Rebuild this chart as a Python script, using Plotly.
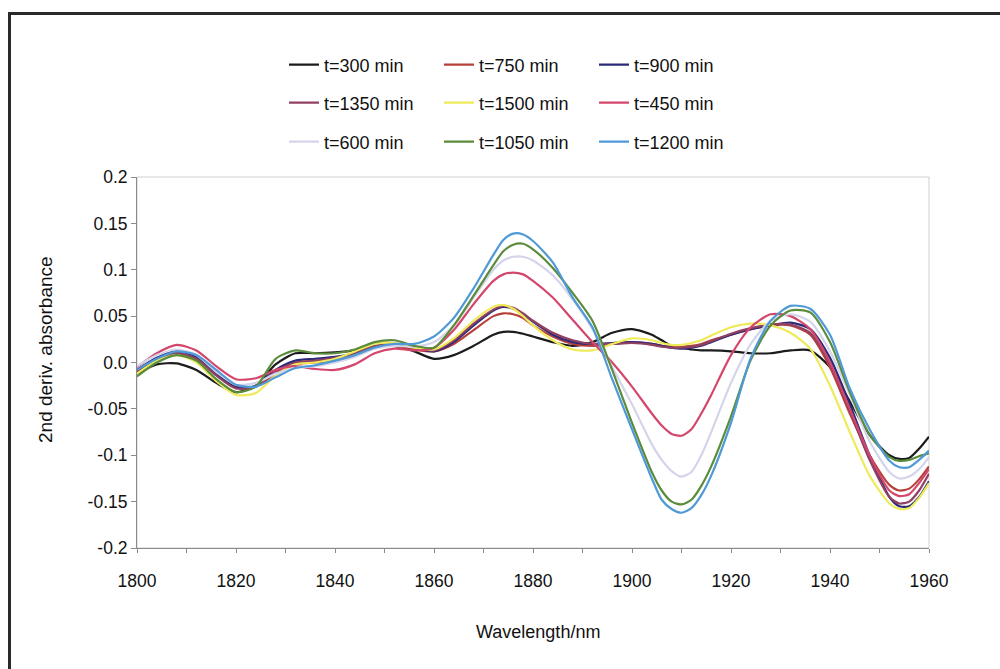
import plotly.graph_objects as go

wavelength = [1800, 1804, 1808, 1812, 1816, 1820, 1824, 1828, 1832, 1836, 1840, 1844, 1848, 1852,
              1856, 1860, 1864, 1868, 1872, 1874, 1876, 1878, 1880, 1884, 1888, 1892, 1896, 1900,
              1904, 1906, 1908, 1910, 1912, 1914, 1916, 1920, 1924, 1928, 1932, 1936, 1940, 1944,
              1948, 1952, 1954, 1956, 1958, 1960]

t300 = [-0.012, -0.002, -0.001, -0.008, -0.022, -0.032, -0.025, -0.002, 0.010, 0.010, 0.011, 0.013, 0.017, 0.018,
        0.012, 0.004, 0.008, 0.018, 0.030, 0.033, 0.033, 0.031, 0.028, 0.022, 0.018, 0.022, 0.032, 0.036,
        0.030, 0.024, 0.018, 0.016, 0.014, 0.013, 0.013, 0.012, 0.010, 0.010, 0.013, 0.013, -0.005, -0.042,
        -0.078, -0.100, -0.104, -0.103, -0.093, -0.080]
t750 = [-0.010, 0.004, 0.010, 0.004, -0.012, -0.026, -0.026, -0.012, -0.002, 0.000, 0.002, 0.008, 0.016, 0.018,
        0.014, 0.012, 0.020, 0.035, 0.050, 0.053, 0.052, 0.048, 0.040, 0.028, 0.020, 0.018, 0.020, 0.022,
        0.020, 0.018, 0.017, 0.017, 0.018, 0.020, 0.024, 0.030, 0.036, 0.040, 0.040, 0.030, -0.005, -0.055,
        -0.100, -0.132, -0.138, -0.136, -0.126, -0.112]
t900 = [-0.008, 0.005, 0.012, 0.006, -0.012, -0.027, -0.025, -0.008, 0.002, 0.004, 0.006, 0.010, 0.017, 0.020,
        0.016, 0.012, 0.022, 0.040, 0.056, 0.060, 0.058, 0.052, 0.044, 0.030, 0.022, 0.020, 0.021, 0.022,
        0.020, 0.018, 0.016, 0.015, 0.016, 0.018, 0.022, 0.030, 0.036, 0.040, 0.043, 0.036, 0.005, -0.045,
        -0.100, -0.145, -0.155, -0.155, -0.145, -0.128]
t1350 = [-0.010, 0.003, 0.010, 0.004, -0.014, -0.028, -0.026, -0.010, 0.000, 0.002, 0.005, 0.010, 0.018, 0.020,
         0.016, 0.013, 0.024, 0.042, 0.057, 0.061, 0.059, 0.053, 0.045, 0.032, 0.024, 0.020, 0.020, 0.021,
         0.019, 0.017, 0.016, 0.016, 0.017, 0.019, 0.023, 0.031, 0.037, 0.041, 0.041, 0.032, -0.002, -0.052,
         -0.105, -0.145, -0.152, -0.150, -0.138, -0.120]
t1500 = [-0.012, 0.002, 0.008, 0.000, -0.020, -0.035, -0.033, -0.014, -0.002, 0.000, 0.004, 0.012, 0.020, 0.021,
         0.016, 0.014, 0.026, 0.045, 0.060, 0.062, 0.058, 0.050, 0.040, 0.024, 0.014, 0.013, 0.020, 0.026,
         0.024, 0.021, 0.019, 0.019, 0.021, 0.024, 0.029, 0.038, 0.042, 0.040, 0.032, 0.015, -0.025, -0.075,
         -0.122, -0.152, -0.158, -0.157, -0.146, -0.130]
t450 = [-0.005, 0.010, 0.019, 0.013, -0.004, -0.018, -0.017, -0.008, -0.004, -0.007, -0.008, -0.002, 0.010, 0.015,
        0.013, 0.016, 0.035, 0.063, 0.088, 0.095, 0.097, 0.095, 0.088, 0.070, 0.046, 0.022, 0.000, -0.026,
        -0.055, -0.068, -0.077, -0.079, -0.072, -0.055, -0.035, 0.008, 0.038, 0.052, 0.050, 0.036, 0.000, -0.050,
        -0.100, -0.138, -0.144, -0.142, -0.130, -0.115]
t600 = [-0.004, 0.008, 0.014, 0.008, -0.010, -0.024, -0.022, -0.012, -0.006, -0.004, 0.000, 0.006, 0.015, 0.018,
        0.017, 0.022, 0.040, 0.070, 0.100, 0.110, 0.114, 0.114, 0.110, 0.094, 0.068, 0.036, -0.005, -0.045,
        -0.088, -0.105, -0.117, -0.123, -0.118, -0.100, -0.075, -0.022, 0.020, 0.045, 0.052, 0.044, 0.012, -0.035,
        -0.085, -0.118, -0.125, -0.123, -0.115, -0.102]
t1050 = [-0.015, 0.000, 0.008, 0.002, -0.018, -0.032, -0.026, 0.004, 0.013, 0.010, 0.010, 0.014, 0.022, 0.024,
         0.018, 0.016, 0.040, 0.072, 0.105, 0.120, 0.127, 0.128, 0.122, 0.102, 0.075, 0.045, -0.008, -0.065,
         -0.118, -0.138, -0.150, -0.153, -0.148, -0.133, -0.112, -0.058, 0.003, 0.040, 0.056, 0.054, 0.022, -0.032,
         -0.078, -0.102, -0.106, -0.105, -0.101, -0.098]
t1200 = [-0.008, 0.004, 0.012, 0.008, -0.008, -0.024, -0.026, -0.016, -0.006, -0.003, 0.002, 0.008, 0.016, 0.020,
         0.020, 0.028, 0.048, 0.080, 0.116, 0.132, 0.139, 0.138, 0.131, 0.108, 0.070, 0.038, -0.018, -0.072,
         -0.125, -0.148, -0.158, -0.162, -0.157, -0.143, -0.122, -0.065, 0.005, 0.045, 0.061, 0.058, 0.030, -0.028,
         -0.072, -0.106, -0.113, -0.113, -0.105, -0.095]

series_names = ["t=300 min", "t=750 min", "t=900 min", "t=1350 min", "t=1500 min", "t=450 min",
                "t=600 min", "t=1050 min", "t=1200 min"]
series_values = [t300, t750, t900, t1350, t1500, t450, t600, t1050, t1200]
series_colors = ["#1c1c1c", "#b8403a", "#2a2a78", "#904060", "#eeea5a", "#d4466c",
                 "#d4d4ea", "#5b8c3c", "#4f9ad6"]
legend_ids = ["legend", "legend", "legend", "legend2", "legend2", "legend2", "legend3", "legend3", "legend3"]

ytick_vals = [0.2, 0.15, 0.1, 0.05, 0.0, -0.05, -0.1, -0.15, -0.2]
ytick_text = ["0.2", "0.15", "0.1", "0.05", "0.0", "-0.05", "-0.1", "-0.15", "-0.2"]

FONT = "Liberation Sans, Arial, sans-serif"

fig = go.Figure()
for name, vals, col, lg in zip(series_names, series_values, series_colors, legend_ids):
    fig.add_trace(go.Scatter(x=wavelength, y=vals, mode="lines", name=name,
                             line=dict(color=col, width=2.2, shape="spline", smoothing=0.7),
                             legend=lg))

L, R, T, B = 137, 71, 177, 121
W, H = 1000, 669
pw, ph = W - L - R, H - T - B

def px_x(px):
    return (px - L) / pw

def px_y(py):
    return (H - B - py) / ph

leg_common = dict(orientation="h", xanchor="left", yanchor="middle", entrywidth=110,
                  entrywidthmode="pixels", font=dict(family=FONT, size=18, color="#111"),
                  bgcolor="rgba(0,0,0,0)", borderwidth=0, tracegroupgap=0)

fig.update_layout(
    width=W, height=H,
    margin=dict(l=L, r=R, t=T, b=B),
    paper_bgcolor="white", plot_bgcolor="white",
    font=dict(family=FONT, size=17, color="#111"),
    legend=dict(x=px_x(284), y=px_y(65), **leg_common),
    legend2=dict(x=px_x(284), y=px_y(103), **leg_common),
    legend3=dict(x=px_x(284), y=px_y(142), **leg_common),
    xaxis=dict(range=[1800, 1960], tickvals=list(range(1800, 1961, 20)), showgrid=False,
               zeroline=False, showline=True, linecolor="#8a8a8a", linewidth=1,
               ticks="outside", ticklen=4, tickcolor="#8a8a8a",
               minor=dict(dtick=10, ticks="outside", ticklen=4, tickcolor="#8a8a8a"),
               tickfont=dict(family=FONT, size=17.5, color="#111"), ticklabelstandoff=13),
    yaxis=dict(range=[-0.2, 0.2], tickvals=ytick_vals, ticktext=ytick_text, showgrid=False,
               zeroline=False, showline=True, linecolor="#8a8a8a", linewidth=1,
               ticks="outside", ticklen=5, tickcolor="#8a8a8a",
               tickfont=dict(family=FONT, size=17.5, color="#111")),
    shapes=[
        dict(type="rect", xref="paper", yref="paper", x0=0, x1=1, y0=0, y1=1,
             line=dict(color="#cfcfcf", width=1), layer="below"),
        dict(type="rect", xref="paper", yref="paper", x0=px_x(9.5), x1=px_x(1010),
             y0=px_y(680), y1=px_y(13.5), line=dict(color="#2a2a2a", width=3)),
    ],
    annotations=[
        dict(text="Wavelength/nm", xref="paper", yref="paper", x=px_x(538), y=px_y(632),
             xanchor="center", yanchor="middle", showarrow=False,
             font=dict(family=FONT, size=18, color="#111")),
        dict(text="2nd deriv. absorbance", xref="paper", yref="paper", x=px_x(45), y=px_y(350),
             xanchor="center", yanchor="middle", showarrow=False, textangle=-90,
             font=dict(family=FONT, size=19, color="#111")),
    ],
)

fig.write_html("out.html")
